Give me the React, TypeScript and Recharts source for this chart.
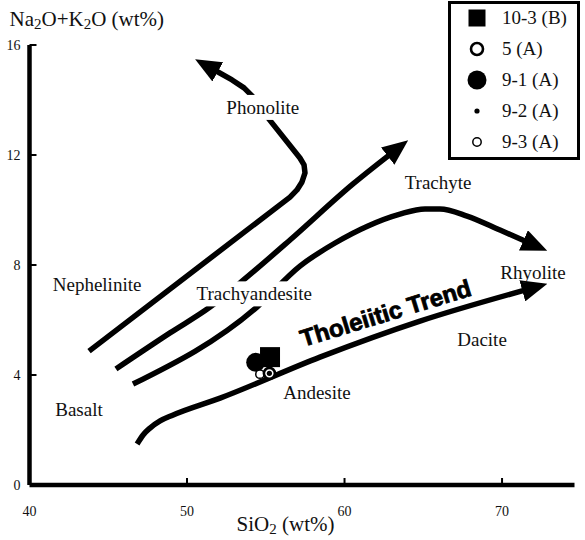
import { ComposedChart, XAxis, YAxis, Line, Scatter, ReferenceDot } from "recharts";

const serif = "'Liberation Serif', 'Times New Roman', serif";
const sans = "'Liberation Sans', Arial, sans-serif";

// boundary curves, SiO2 (wt%) vs Na2O+K2O (wt%)
const nephPhonoX = [43.78, 56.54, 56.98, 57.3, 57.49, 57.43, 57.17, 55.14, 54.13, 53.62, 52.86, 51.4];
const nephPhonoY = [4.87, 10.47, 10.73, 11.02, 11.35, 11.64, 11.89, 13.35, 14.15, 14.44, 14.73, 15.2];

const trachyUpperX = [45.49, 48.92, 51.46, 53.37, 56.54, 60.54, 63.24];
const trachyUpperY = [4.22, 5.53, 6.47, 7.35, 8.91, 10.95, 12.18];

const trachyLowerX = [46.57, 54.44, 57.17, 59.4, 61.49, 63.52, 65.11, 66.06, 67.78, 69.87, 71.94];
const trachyLowerY = [3.67, 6.47, 7.96, 8.8, 9.42, 9.85, 10.04, 10.04, 9.78, 9.27, 8.75];

const tholeiiticX = [46.83, 47.21, 47.65, 48.29, 49.05, 52.1, 58.44, 64.79, 71.9];
const tholeiiticY = [1.49, 1.82, 2.07, 2.33, 2.53, 3.16, 4.65, 5.96, 7.16];

// samples
const sampleNames = ["10-3 (B)", "5 (A)", "9-1 (A)", "9-2 (A)", "9-3 (A)"];
const sampleSiO2 = [55.27, 55.23, 54.36, 55.23, 54.63];
const sampleAlkali = [4.65, 4.06, 4.46, 4.06, 4.03];
const drawOrder = ["9-1 (A)", "10-3 (B)", "9-3 (A)", "5 (A)", "9-2 (A)"];

// rock field names
const regionNames = ["Phonolite", "Trachyte", "Nephelinite", "Trachyandesite", "Rhyolite", "Dacite", "Andesite", "Basalt"];
const regionX = [54.81, 65.94, 44.29, 54.27, 71.97, 68.73, 58.25, 43.14];
const regionY = [13.73, 10.98, 7.27, 6.95, 7.73, 5.27, 3.36, 2.73];

const trendLabel = "Tholeiitic Trend";
const trendX = 62.6;
const trendY = 6.25;

const xTicks = [40, 50, 60, 70];
const yTicks = [0, 4, 8, 12, 16];

const maskWidth: Record<string, number> = { Phonolite: 80, Trachyandesite: 126 };

const toPoints = (xs: number[], ys: number[]) => xs.map((x, i) => ({ x, y: ys[i] }));
const curves = [
  { pts: toPoints(nephPhonoX, nephPhonoY), type: "linear" },
  { pts: toPoints(trachyUpperX, trachyUpperY), type: "monotone" },
  { pts: toPoints(trachyLowerX, trachyLowerY), type: "monotone" },
  { pts: toPoints(tholeiiticX, tholeiiticY), type: "monotone" },
];

function symbol(name: string, cx: number, cy: number, legend = false) {
  switch (name) {
    case "10-3 (B)": {
      const s = legend ? 17 : 20;
      return <rect x={cx - s / 2} y={cy - s / 2} width={s} height={s} fill="#000" />;
    }
    case "5 (A)":
      return <circle cx={cx} cy={cy} r={legend ? 6 : 5.5} fill="#fff" stroke="#000" strokeWidth={2.6} />;
    case "9-1 (A)":
      return <circle cx={cx} cy={cy} r={9.5} fill="#000" />;
    case "9-2 (A)":
      return <circle cx={cx} cy={cy} r={2.6} fill="#000" />;
    default:
      return <circle cx={cx} cy={cy} r={4.2} fill="#fff" stroke="#000" strokeWidth={1.5} />;
  }
}

const YTick = (props: any) => {
  const { x, y, payload } = props;
  return (
    <g>
      {payload.value !== 0 && <line x1={x} y1={y} x2={x + 7} y2={y} stroke="#000" strokeWidth={2} />}
      <text x={x - 9} y={y} dy="0.35em" textAnchor="end" fontSize={14} fontFamily={serif} fill="#111">
        {payload.value}
      </text>
    </g>
  );
};

const XTick = (props: any) => {
  const { x, y, payload } = props;
  return (
    <g>
      {payload.value !== 40 && <line x1={x} y1={y} x2={x} y2={y - 7} stroke="#000" strokeWidth={2} />}
      <text x={x} y={y + 31} textAnchor="middle" fontSize={14} fontFamily={serif} fill="#111">
        {payload.value}
      </text>
    </g>
  );
};

const YTitle = (props: any) => {
  const { viewBox } = props;
  return (
    <text x={viewBox.x - 19} y={viewBox.y - 19} fontSize={21} fontFamily={serif} fill="#111">
      Na<tspan fontSize={15} dy={3}>2</tspan>
      <tspan dy={-3}>O+K</tspan>
      <tspan fontSize={15} dy={3}>2</tspan>
      <tspan dy={-3}>O (wt%)</tspan>
    </text>
  );
};

const XTitle = (props: any) => {
  const { viewBox } = props;
  return (
    <text x={viewBox.x + 256} y={viewBox.y + 46} textAnchor="middle" fontSize={21} fontFamily={serif} fill="#111">
      SiO<tspan fontSize={15} dy={3}>2</tspan>
      <tspan dy={-3}> (wt%)</tspan>
    </text>
  );
};

function Legendbox() {
  return (
    <div
      style={{
        position: "absolute",
        left: 448,
        top: 1,
        width: 132,
        height: 159,
        border: "3px solid #000",
        boxSizing: "border-box",
        background: "#fff",
      }}
    >
      <svg width={126} height={153}>
        {sampleNames.map((name, i) => {
          const cy = 14 + i * 31;
          return (
            <g key={name}>
              {symbol(name, 26, cy, true)}
              <text x={51} y={cy} dy="0.33em" fontSize={19} fontFamily={serif} fill="#111">
                {name}
              </text>
            </g>
          );
        })}
      </svg>
    </div>
  );
}

export default function App() {
  return (
    <div style={{ position: "absolute", left: 0, top: 0, width: 585, height: 540, background: "#fff" }}>
      <svg width={0} height={0} style={{ position: "absolute" }}>
        <defs>
          <marker
            id="arrowHead"
            viewBox="0 0 26 22"
            refX={10}
            refY={11}
            markerWidth={26}
            markerHeight={22}
            markerUnits="userSpaceOnUse"
            orient="auto"
          >
            <path d="M0,0 L26,11 L0,22 z" fill="#000" />
          </marker>
        </defs>
      </svg>
      <ComposedChart width={585} height={540} margin={{ top: 45, right: 10.5, bottom: 54, left: 28.5 }}>
        <XAxis
          type="number"
          dataKey="x"
          domain={[40, 74.6]}
          ticks={xTicks}
          allowDataOverflow
          height={1}
          tickSize={0}
          tickMargin={0}
          tickLine={false}
          tick={<XTick />}
          axisLine={{ stroke: "#000", strokeWidth: 4.5 }}
          label={{ content: <XTitle /> }}
        />
        <YAxis
          type="number"
          dataKey="y"
          domain={[0, 16]}
          ticks={yTicks}
          allowDataOverflow
          width={1}
          tickSize={0}
          tickMargin={0}
          tickLine={false}
          tick={<YTick />}
          axisLine={{ stroke: "#000", strokeWidth: 4.5 }}
          label={{ content: <YTitle /> }}
        />
        {curves.map((c, i) => (
          <Line
            key={i}
            data={c.pts}
            dataKey="y"
            type={c.type as any}
            stroke="#000"
            strokeWidth={5.5}
            strokeLinejoin="round"
            dot={false}
            activeDot={false}
            isAnimationActive={false}
            markerEnd="url(#arrowHead)"
          />
        ))}
        {regionNames.map((name, i) => (
          <ReferenceDot
            key={name}
            x={regionX[i]}
            y={regionY[i]}
            r={1}
            ifOverflow="visible"
            shape={(p: any) => (
              <g>
                {maskWidth[name] && (
                  <rect x={p.cx - maskWidth[name] / 2} y={p.cy - 12.5} width={maskWidth[name]} height={25} fill="#fff" />
                )}
                <text x={p.cx} y={p.cy} dy="0.33em" textAnchor="middle" fontSize={19} fontFamily={serif} fill="#111">
                  {name}
                </text>
              </g>
            )}
          />
        ))}
        <ReferenceDot
          x={trendX}
          y={trendY}
          r={1}
          ifOverflow="visible"
          shape={(p: any) => (
            <text
              x={p.cx}
              y={p.cy}
              dy="0.35em"
              textAnchor="middle"
              fontSize={24}
              fontWeight={700}
              fontFamily={sans}
              fill="#000"
              stroke="#000"
              strokeWidth={0.8}
              transform={`rotate(-17 ${p.cx} ${p.cy})`}
            >
              {trendLabel}
            </text>
          )}
        />
        {drawOrder.map((name) => {
          const i = sampleNames.indexOf(name);
          return (
            <Scatter
              key={name}
              name={name}
              data={[{ x: sampleSiO2[i], y: sampleAlkali[i] }]}
              isAnimationActive={false}
              shape={(p: any) => symbol(name, p.cx, p.cy)}
            />
          );
        })}
      </ComposedChart>
      <Legendbox />
    </div>
  );
}
